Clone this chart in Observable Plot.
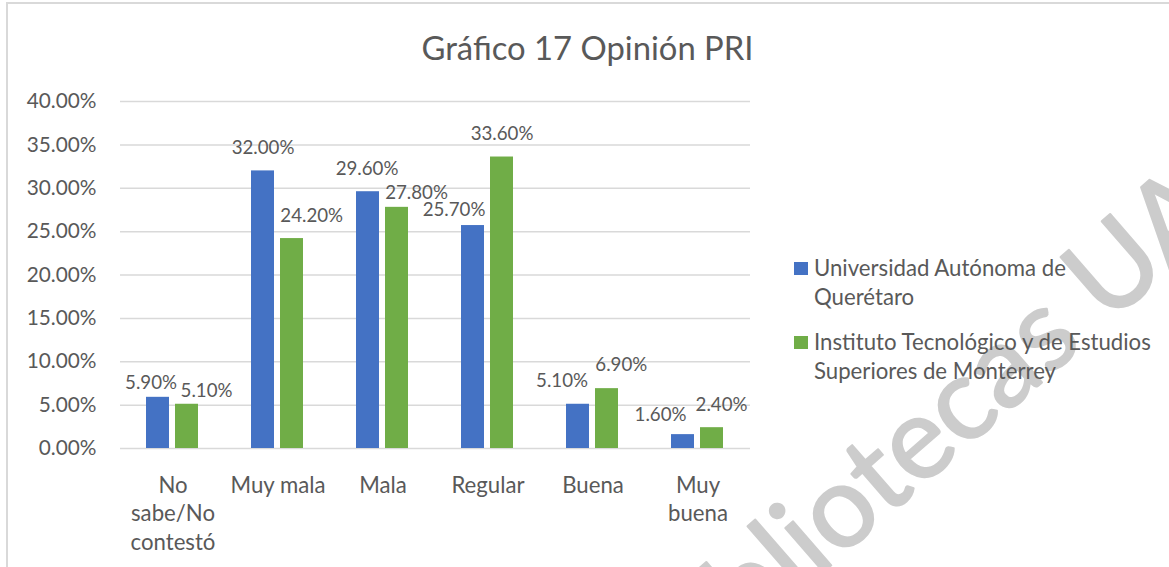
<!DOCTYPE html>
<html>
<head>
<meta charset="utf-8">
<script src="https://cdn.jsdelivr.net/npm/d3@7"></script>
<script src="https://cdn.jsdelivr.net/npm/@observablehq/plot@0.6"></script>
<style>
  html, body { margin: 0; padding: 0; background: #fff; overflow: hidden; }
  #wrap { position: relative; width: 1169px; height: 567px; overflow: hidden; font-family: Lato, "Open Sans", sans-serif; color: #595959; }
  #frame { position: absolute; left: 6px; top: 2px; width: 1300px; height: 700px; border-left: 2px solid #d9d9d9; border-top: 2px solid #d9d9d9; }
  #watermark { position: absolute; left: 0; top: 0; }
  #title { position: absolute; left: 0; width: 1175px; top: 27.6px; text-align: center; font-size: 32.8px; line-height: 1.2; white-space: nowrap; }
  #chart { position: absolute; left: 0; top: 0; }
  #legend { position: absolute; left: 794px; top: 252.9px; }
  .item { position: relative; margin-bottom: 16px; }
  .sw { position: absolute; left: 0; top: 9px; width: 13.5px; height: 13.5px; }
  .lab { margin-left: 20px; font-size: 22.2px; line-height: 29px; white-space: pre; }
</style>
</head>
<body>
<div id="wrap">
  <svg id="watermark" width="1169" height="567"></svg>
  <div id="frame"></div>
  <div id="chart"></div>
  <div id="title"></div>
  <div id="legend"></div>
</div>
<script>
// ---- data ----
const chartTitle = "Gráfico 17 Opinión PRI";
const categories = ["No sabe/No contestó", "Muy mala", "Mala", "Regular", "Buena", "Muy buena"];
const categoryTickLabels = ["No\nsabe/No\ncontestó", "Muy mala", "Mala", "Regular", "Buena", "Muy\nbuena"];
const series = ["Universidad Autónoma de Querétaro", "Instituto Tecnológico y de Estudios Superiores de Monterrey"];
const seriesLegendLabels = ["Universidad Autónoma de\nQuerétaro", "Instituto Tecnológico y de Estudios\nSuperiores de Monterrey"];
const uaqValues = [5.9, 32.0, 29.6, 25.7, 5.1, 1.6];
const itesmValues = [5.1, 24.2, 27.8, 33.6, 6.9, 2.4];
const yTicks = [0, 5, 10, 15, 20, 25, 30, 35, 40];
const watermarkText = "Bibliotecas UAQ";

// ---- styling ----
const colors = ["#4472C4", "#70AD47"];
const textColor = "#595959";
const gridColor = "#d9d9d9";
// data-label nudges (dx, dy) per series per category, mimicking the original label placement
const uaqLabelNudge = [[-7, -8], [0, -16.5], [-1, -17], [-19, -10], [-16, -17], [-22.5, -14]];
const itesmLabelNudge = [[19.5, -7], [19.7, -17], [19.5, -8.5], [0, -17], [14.3, -18], [9.5, -17]];

const seriesValues = [uaqValues, itesmValues];
const nudges = [uaqLabelNudge, itesmLabelNudge];
const rows = [];
categories.forEach((c, i) => {
  series.forEach((s, j) => {
    rows.push({category: c, series: s, value: seriesValues[j][i], nudge: nudges[j][i]});
  });
});

const fmt = v => v.toFixed(2) + "%";

const labelMarks = rows.map(r => Plot.text([r], {
  fx: "category", x: "series", y: "value",
  text: d => fmt(d.value),
  lineAnchor: "bottom",
  dx: r.nudge[0], dy: r.nudge[1],
  fontSize: 18.7, fill: textColor
}));

const chart = Plot.plot({
  width: 752, height: 560,
  marginLeft: 118, marginRight: 0, marginTop: 101, marginBottom: 112,
  style: {fontFamily: "Lato, 'Open Sans', sans-serif", color: textColor, background: "transparent", overflow: "visible"},
  fx: {domain: categories, paddingInner: 0, paddingOuter: 0, label: null},
  x: {domain: series, paddingInner: 0.2, paddingOuter: 0.862, axis: null},
  y: {domain: [0, 40], label: null},
  color: {domain: series, range: colors},
  marks: [
    Plot.ruleY(yTicks, {stroke: gridColor, strokeWidth: 1.5}),
    Plot.barY(rows, {fx: "category", x: "series", y: "value", fill: "series"}),
    ...labelMarks,
    Plot.axisY({ticks: yTicks, tickFormat: fmt, tickSize: 0, tickPadding: 24, fontSize: 20.8, fill: textColor, label: null}),
    Plot.axisFx({anchor: "bottom", tickSize: 0, tickPadding: 24, fontSize: 22.2, lineHeight: 1.284, fill: textColor, label: null,
      tickFormat: d => categoryTickLabels[categories.indexOf(d)]})
  ]
});
document.getElementById("chart").appendChild(chart);

document.getElementById("title").textContent = chartTitle;

const legend = document.getElementById("legend");
series.forEach((s, j) => {
  const item = document.createElement("div");
  item.className = "item";
  const sw = document.createElement("div");
  sw.className = "sw";
  sw.style.background = colors[j];
  const lab = document.createElement("div");
  lab.className = "lab";
  lab.textContent = seriesLegendLabels[j];
  item.appendChild(sw);
  item.appendChild(lab);
  legend.appendChild(item);
});

// watermark
const wm = d3.select("#watermark");
wm.append("text")
  .attr("transform", "translate(672,704) rotate(-41)")
  .attr("font-family", "Lato, sans-serif")
  .attr("font-size", 115)
  .attr("fill", "#cccccc")
  .attr("stroke", "#cccccc")
  .attr("stroke-width", 2)
  .attr("stroke-linejoin", "round")
  .text(watermarkText);
</script>
</body>
</html>
